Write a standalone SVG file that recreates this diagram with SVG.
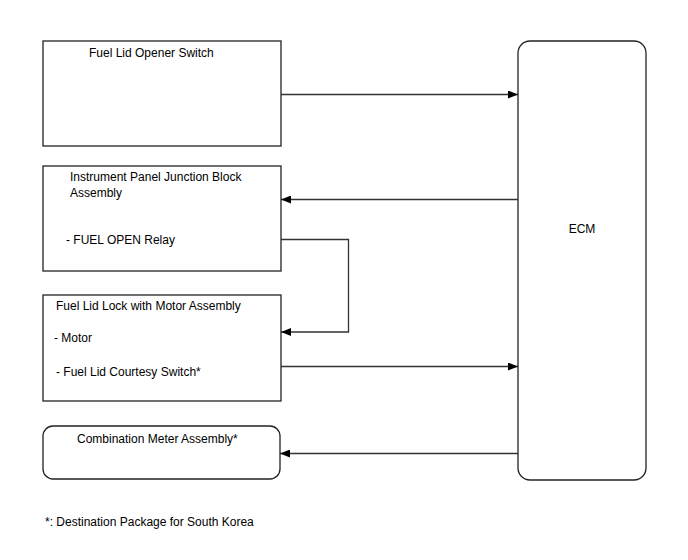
<svg xmlns="http://www.w3.org/2000/svg" width="688" height="560" viewBox="0 0 688 560">
<defs>
<marker id="arr" markerWidth="10" markerHeight="8" refX="10" refY="4" orient="auto" markerUnits="userSpaceOnUse">
<path d="M0,0 L10,4 L0,8 Z" fill="#000"/>
</marker>
<style>
.box{fill:#fff;stroke:#222;stroke-width:1.3}
.t{font-family:"Liberation Sans",Arial,sans-serif;font-size:12px;fill:#000}
.c{fill:none;stroke:#333;stroke-width:1.3}
</style>
</defs>
<rect width="688" height="560" fill="#fff"/>
<g id="fuel-lid-opener-switch">
<rect class="box" x="43" y="41" width="238" height="105"/>
<text class="t" x="89" y="57">Fuel Lid Opener Switch</text>
</g>
<g id="instrument-panel-jb">
<rect class="box" x="43" y="166" width="238" height="105"/>
<text class="t" x="70" y="181">Instrument Panel Junction Block</text>
<text class="t" x="70" y="197">Assembly</text>
<text class="t" x="66" y="244">- FUEL OPEN Relay</text>
</g>
<g id="fuel-lid-lock">
<rect class="box" x="43" y="295" width="238" height="106"/>
<text class="t" x="56" y="310">Fuel Lid Lock with Motor Assembly</text>
<text class="t" x="54" y="342">- Motor</text>
<text class="t" x="56" y="376">- Fuel Lid Courtesy Switch*</text>
</g>
<g id="combination-meter">
<rect class="box" x="43" y="426" width="237" height="53" rx="10" ry="10"/>
<text class="t" x="77" y="443">Combination Meter Assembly*</text>
</g>
<g id="ecm">
<rect class="box" x="518" y="41" width="128" height="439" rx="12" ry="12"/>
<text class="t" x="582" y="233" text-anchor="middle">ECM</text>
</g>
<g id="connectors">
<line class="c" x1="281" y1="94.5" x2="518" y2="94.5" marker-end="url(#arr)"/>
<line class="c" x1="518" y1="199.5" x2="281" y2="199.5" marker-end="url(#arr)"/>
<polyline class="c" points="281,239.5 348.5,239.5 348.5,332 281,332" marker-end="url(#arr)"/>
<line class="c" x1="281" y1="366.5" x2="518" y2="366.5" marker-end="url(#arr)"/>
<line class="c" x1="518" y1="453.5" x2="280" y2="453.5" marker-end="url(#arr)"/>
</g>
<text class="t" x="45" y="526">*: Destination Package for South Korea</text>
</svg>
